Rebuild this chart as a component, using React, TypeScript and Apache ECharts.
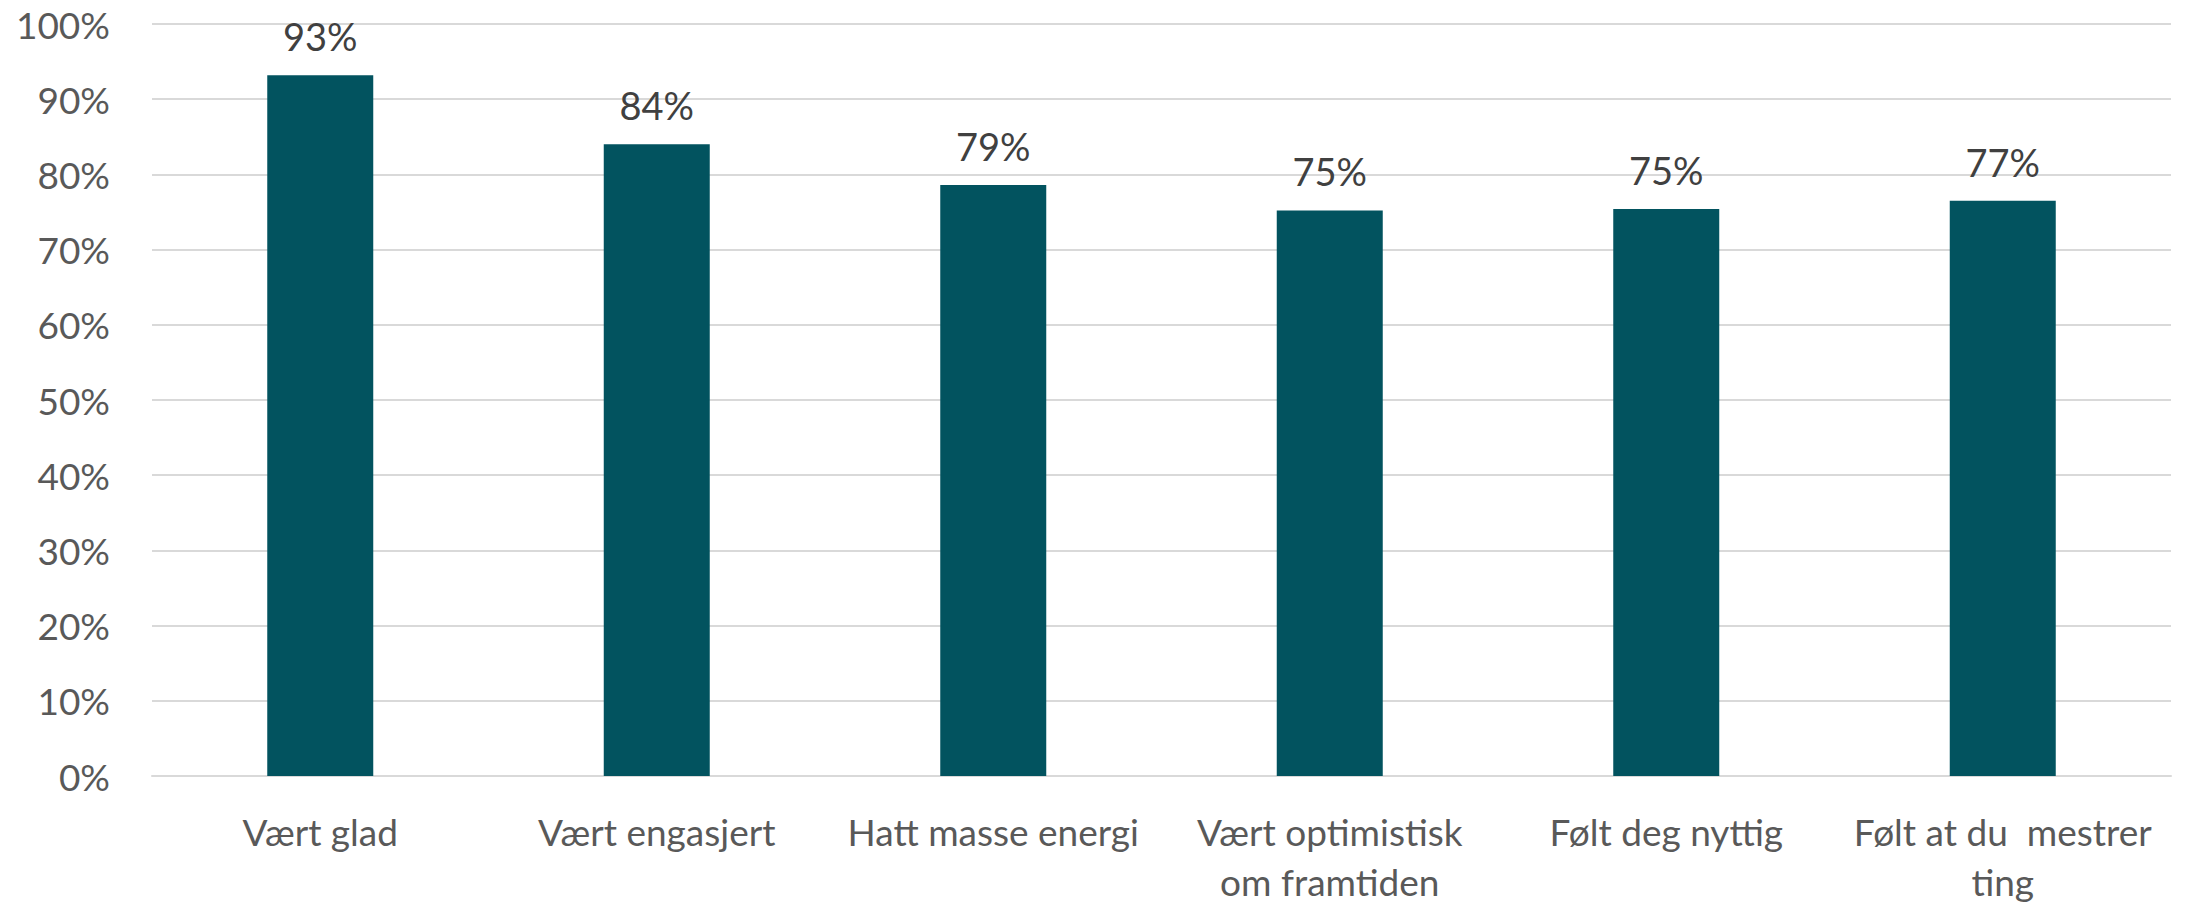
import React, { useEffect, useRef } from "react";
import * as echarts from "echarts";

const categories = [
  "Vært glad",
  "Vært engasjert",
  "Hatt masse energi",
  "Vært optimistisk\nom framtiden",
  "Følt deg nyttig",
  "Følt at du  mestrer\nting",
];
const values = [0.932, 0.84, 0.786, 0.752, 0.754, 0.765];
const yTicks = [0, 0.1, 0.2, 0.3, 0.4, 0.5, 0.6, 0.7, 0.8, 0.9, 1.0];

const FONT = "Lato, 'Open Sans', sans-serif";

export default function App() {
  const ref = useRef<HTMLDivElement>(null);
  useEffect(() => {
    if (!ref.current) return;
    const chart = echarts.init(ref.current, undefined, { renderer: "svg" });
    chart.setOption({
      animation: false,
      backgroundColor: "#ffffff",
      grid: { left: 152, right: 17, top: 24, bottom: 128, containLabel: false },
      xAxis: {
        type: "category",
        data: categories,
        axisTick: { show: false },
        axisLine: { show: true, lineStyle: { color: "#d9d9d9", width: 2 } },
        axisLabel: {
          interval: 0,
          color: "#595959",
          fontFamily: FONT,
          fontSize: 37,
          lineHeight: 50,
          margin: 30,
        },
      },
      yAxis: {
        type: "value",
        min: yTicks[0],
        max: yTicks[yTicks.length - 1],
        interval: 0.1,
        axisLine: { show: false },
        axisTick: { show: false },
        splitLine: { lineStyle: { color: "#d9d9d9", width: 2 } },
        axisLabel: {
          color: "#595959",
          fontFamily: FONT,
          fontSize: 37,
          margin: 42,
          formatter: (v: number) => `${Math.round(v * 100)}%`,
        },
      },
      series: [
        {
          type: "bar",
          data: values,
          barWidth: 106,
          itemStyle: { color: "#02535f" },
          label: {
            show: true,
            position: "top",
            distance: 20,
            color: "#404040",
            fontFamily: FONT,
            fontSize: 38,
            formatter: (p: any) => `${Math.round(p.value * 100)}%`,
          },
        },
      ],
    });
    return () => chart.dispose();
  }, []);
  return (
    <div
      ref={ref}
      style={{ position: "absolute", left: 0, top: 0, width: 2188, height: 906 }}
    />
  );
}
